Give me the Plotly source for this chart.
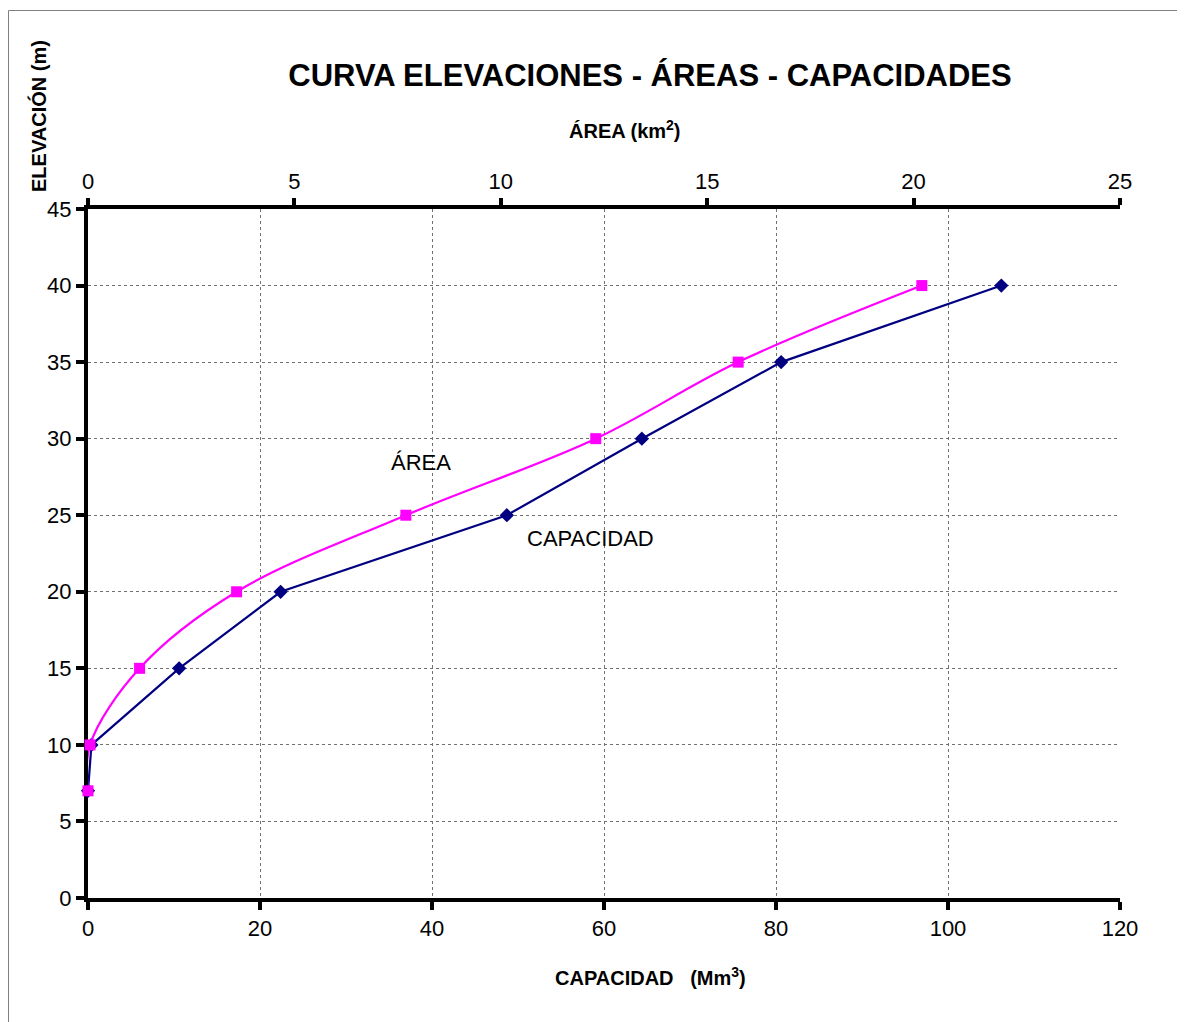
import plotly.graph_objects as go

elevacion = [7, 10, 15, 20, 25, 30, 35, 40]
area_km2 = [0.0, 0.05, 1.25, 3.6, 7.7, 12.3, 15.75, 20.2]
capacidad_mm3 = [0.0, 0.4, 10.6, 22.4, 48.7, 64.4, 80.6, 106.2]

cap_ticks = [0, 20, 40, 60, 80, 100, 120]
area_ticks = [0, 5, 10, 15, 20, 25]
elev_ticks = [0, 5, 10, 15, 20, 25, 30, 35, 40, 45]

BOLD = "Liberation Sans Narrow, Arial Narrow, Liberation Sans, Arial, sans-serif"
REG = "Liberation Sans, Arial, sans-serif"

fig = go.Figure()
fig.add_trace(go.Scatter(
    x=area_km2, y=elevacion, xaxis="x2", yaxis="y", mode="lines+markers",
    line=dict(color="#FF00FF", width=2.2, shape="spline", smoothing=1),
    marker=dict(symbol="square", size=11, color="#FF00FF"),
    cliponaxis=False, name="ÁREA", showlegend=False))
fig.add_trace(go.Scatter(
    x=capacidad_mm3, y=elevacion, xaxis="x", yaxis="y", mode="lines+markers",
    line=dict(color="#000080", width=2.2),
    marker=dict(symbol="diamond", size=11, color="#000080"),
    cliponaxis=False, name="CAPACIDAD", showlegend=False))

# page offset: the figure sits 8px in from the page corner
OFF = 8
W, H = 1185 - OFF, 1022 - OFF
L, R, T, B = 88, 1120, 209, 898
pw, ph = R - L, B - T

def px(x):
    return (x - L) / pw

def py(y):
    return (B - y) / ph

fig.update_layout(
    width=W, height=H,
    margin=dict(l=L - OFF, r=1185 - R, t=T - OFF, b=1022 - B, pad=0),
    paper_bgcolor="white", plot_bgcolor="white",
    font=dict(family=REG, size=22, color="black"),
    title=dict(text="<b>CURVA ELEVACIONES - ÁREAS - CAPACIDADES</b>",
               font=dict(family=BOLD, size=31, color="black"),
               x=(650 - OFF) / W, xanchor="center",
               y=1 - (75 - OFF) / H, yanchor="middle"),
    xaxis=dict(range=[0, 120], tickvals=cap_ticks, side="bottom",
               showline=True, linewidth=4, linecolor="black", layer="below traces",
               ticks="outside", ticklen=8, tickwidth=4, tickcolor="black",
               showgrid=True, gridcolor="#707070", gridwidth=1, griddash="dot",
               zeroline=False, tickfont=dict(size=22, family=REG)),
    xaxis2=dict(range=[0, 25], tickvals=area_ticks, side="top", overlaying="x",
                anchor="y", showline=True, linewidth=4, linecolor="black",
                layer="below traces",
                ticks="outside", ticklen=7, tickwidth=4, tickcolor="black",
                showgrid=False, zeroline=False, tickfont=dict(size=22, family=REG)),
    yaxis=dict(range=[0, 45], tickvals=elev_ticks,
               showline=True, linewidth=4, linecolor="black", layer="below traces",
               ticks="outside", ticklen=8, tickwidth=4, tickcolor="black",
               showgrid=True, gridcolor="#707070", gridwidth=1, griddash="dot",
               zeroline=False, tickfont=dict(size=22, family=REG)),
    shapes=[dict(type="rect", xref="paper", yref="paper",
                 x0=px(8.5), x1=px(1190), y0=py(1030), y1=py(10.5),
                 line=dict(color="#808080", width=1), layer="below")],
    annotations=[
        dict(text="<b>ELEVACIÓN (m)</b>", xref="paper", yref="paper",
             x=px(38), y=py(116), textangle=-90, showarrow=False,
             font=dict(family=BOLD, size=20, color="black"),
             xanchor="center", yanchor="middle"),
        dict(text="<b>ÁREA (km<sup>2</sup>)</b>", xref="paper", yref="paper",
             x=px(625), y=py(129), showarrow=False,
             font=dict(family=BOLD, size=20, color="black"),
             xanchor="center", yanchor="middle"),
        dict(text="<b>CAPACIDAD   (Mm<sup>3</sup>)</b>", xref="paper", yref="paper",
             x=px(650), y=py(976), showarrow=False,
             font=dict(family=BOLD, size=20, color="black"),
             xanchor="center", yanchor="middle"),
        dict(text="ÁREA", xref="paper", yref="paper", x=px(421), y=py(462),
             showarrow=False, font=dict(family=REG, size=22, color="black"),
             xanchor="center", yanchor="middle"),
        dict(text="CAPACIDAD", xref="paper", yref="paper", x=px(590), y=py(538),
             showarrow=False, font=dict(family=REG, size=22, color="black"),
             xanchor="center", yanchor="middle"),
    ],
)

fig.write_html("out.html")
